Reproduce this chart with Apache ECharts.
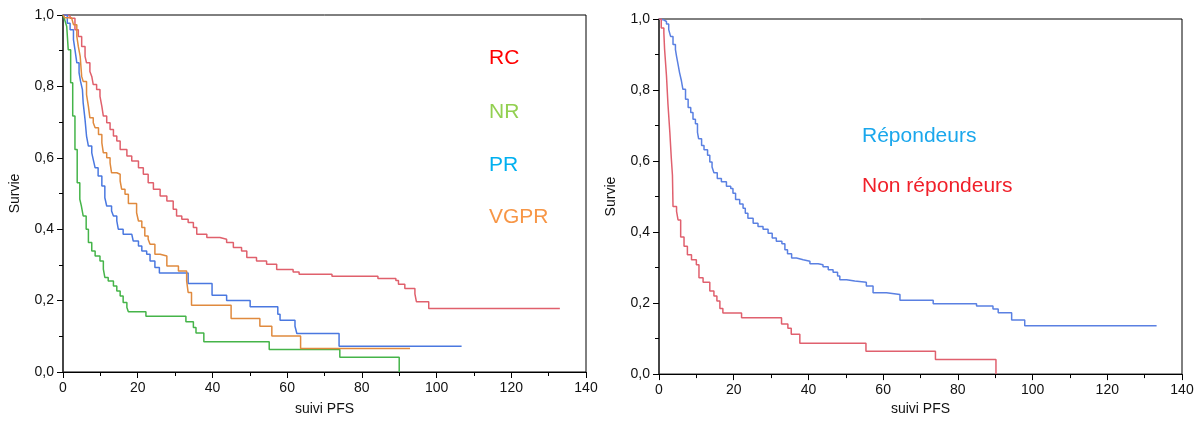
<!DOCTYPE html>
<html>
<head>
<meta charset="utf-8">
<script src="https://cdn.jsdelivr.net/npm/echarts@6/dist/echarts.min.js"></script>
<style>
html,body{margin:0;padding:0;background:#fff;}
#c{width:1201px;height:421px;}
</style>
</head>
<body>
<div id="c"></div>
<script>
// ---- Data (Kaplan-Meier step points: [time, survival after step]) ----
const xTicks = [0, 20, 40, 60, 80, 100, 120, 140];
const yTicks = [0, 0.2, 0.4, 0.6, 0.8, 1.0];

const rcData = [[0,1],[1.0,0.997],[1.9,0.991],[3.2,0.959],[4.1,0.940],[5.0,0.912],[5.9,0.884],[6.3,0.866],[7.2,0.842],[7.7,0.828],[8.1,0.805],[9.0,0.791],[9.9,0.772],[10.4,0.744],[10.8,0.717],[11.7,0.698],[12.6,0.679],[13.5,0.661],[14.4,0.647],[15.3,0.623],[17.1,0.605],[18.4,0.591],[20.2,0.572],[21.5,0.554],[22.8,0.530],[24.2,0.512],[26.0,0.493],[27.8,0.479],[29.5,0.456],[30.4,0.437],[31.8,0.428],[33.5,0.419],[34.9,0.405],[35.8,0.386],[38.5,0.377],[42.0,0.372],[43.8,0.363],[45.6,0.349],[47.8,0.339],[49.2,0.321],[51.8,0.311],[54.5,0.302],[57.2,0.287],[61.6,0.280],[63.2,0.274],[72.0,0.268],[84.3,0.262],[89.1,0.256],[89.8,0.246],[91.5,0.234],[94.2,0.219],[94.6,0.197],[97.9,0.178],[133.0,0.178]];

const nrData = [[0,1],[0.5,0.985],[1.0,0.968],[1.4,0.903],[2.05,0.810],[2.6,0.717],[3.2,0.623],[3.8,0.530],[4.5,0.484],[4.9,0.466],[5.4,0.437],[6.2,0.400],[6.8,0.363],[7.7,0.339],[8.6,0.325],[9.9,0.311],[10.8,0.288],[11.2,0.265],[12.1,0.255],[13.5,0.241],[14.4,0.227],[15.3,0.213],[16.1,0.195],[17.1,0.181],[17.5,0.169],[22.2,0.156],[32.9,0.141],[34.9,0.125],[35.6,0.109],[37.7,0.085],[55.2,0.063],[74.1,0.041],[90.0,0.0]];

const prData = [[0,1],[0.5,1.0],[1.15,0.977],[1.9,0.959],[2.8,0.931],[3.2,0.903],[3.7,0.866],[4.3,0.838],[4.7,0.814],[5.2,0.791],[5.4,0.754],[5.9,0.707],[6.3,0.661],[6.8,0.633],[7.7,0.614],[8.1,0.595],[8.6,0.572],[9.4,0.549],[10.4,0.521],[11.2,0.488],[11.7,0.465],[13.0,0.451],[13.5,0.437],[14.4,0.423],[14.8,0.400],[16.1,0.386],[18.4,0.381],[18.8,0.367],[20.2,0.353],[21.1,0.339],[22.4,0.330],[23.3,0.311],[24.6,0.293],[25.8,0.277],[33.5,0.248],[39.9,0.215],[43.8,0.200],[50.1,0.183],[57.5,0.162],[58.1,0.145],[62.1,0.128],[62.6,0.108],[73.9,0.072],[106.7,0.072]];

const vgprData = [[0,1],[0.5,0.992],[2.3,0.987],[2.8,0.973],[3.7,0.940],[4.1,0.912],[4.6,0.884],[5.0,0.828],[5.4,0.814],[6.3,0.777],[6.8,0.744],[7.2,0.712],[8.1,0.698],[8.6,0.684],[9.5,0.665],[10.4,0.642],[10.8,0.614],[11.7,0.600],[12.6,0.586],[13.0,0.558],[14.4,0.554],[15.3,0.535],[15.7,0.512],[16.6,0.498],[17.5,0.472],[19.7,0.446],[20.2,0.423],[21.1,0.405],[21.9,0.381],[22.8,0.372],[23.3,0.358],[24.6,0.330],[26.0,0.325],[27.8,0.297],[30.9,0.283],[33.1,0.255],[33.5,0.223],[34.4,0.187],[45.0,0.150],[52.7,0.128],[55.9,0.101],[63.6,0.066],[92.9,0.066]];

const repData = [[0,1],[0.2,0.998],[1.1,0.993],[2.0,0.986],[2.6,0.970],[3.1,0.951],[3.75,0.928],[4.4,0.914],[4.7,0.895],[5.1,0.872],[5.5,0.849],[6.0,0.826],[6.4,0.802],[7.1,0.774],[7.8,0.751],[8.5,0.737],[9.1,0.718],[9.75,0.705],[10.3,0.681],[10.6,0.663],[11.4,0.644],[12.05,0.632],[13.0,0.616],[13.6,0.597],[14.2,0.583],[14.7,0.567],[15.6,0.551],[16.7,0.542],[18.05,0.529],[19.2,0.523],[19.8,0.509],[20.5,0.492],[21.6,0.479],[22.5,0.467],[23.1,0.453],[23.8,0.439],[25.2,0.425],[26.5,0.416],[27.85,0.408],[29.2,0.397],[30.3,0.383],[31.4,0.374],[32.9,0.367],[33.7,0.350],[34.4,0.339],[35.5,0.327],[36.8,0.322],[38.6,0.318],[40.4,0.311],[42.6,0.308],[43.9,0.302],[45.3,0.294],[46.6,0.287],[47.8,0.276],[48.4,0.266],[50.2,0.262],[52.4,0.259],[55.5,0.248],[57.3,0.229],[60.9,0.224],[64.5,0.208],[73.4,0.198],[85.0,0.192],[89.4,0.183],[90.8,0.173],[94.4,0.152],[97.9,0.136],[133.2,0.136]];

const nonRepData = [[0,1],[0.6,0.975],[1.3,0.961],[1.5,0.914],[2.0,0.840],[2.4,0.760],[2.9,0.681],[3.3,0.607],[3.6,0.560],[3.75,0.472],[4.7,0.458],[5.1,0.434],[5.8,0.386],[6.7,0.360],[7.6,0.336],[8.7,0.322],[10.0,0.308],[10.7,0.271],[11.8,0.259],[13.6,0.234],[14.7,0.220],[15.5,0.206],[16.3,0.185],[17.1,0.172],[22.1,0.159],[32.8,0.141],[34.5,0.129],[35.4,0.112],[37.7,0.087],[55.4,0.064],[74.0,0.041],[90.2,0.0]];

const leftLabels = ['RC', 'NR', 'PR', 'VGPR'];
const rightLabels = ['Répondeurs', 'Non répondeurs'];

// ---- Chart ----
const FONT = '"Liberation Sans", Arial, sans-serif';
const chart = echarts.init(document.getElementById('c'), null, {renderer: 'canvas'});

function xAxisCfg(gridIndex, gap) {
  return {
    type: 'value', gridIndex, min: xTicks[0], max: xTicks[xTicks.length - 1], interval: 20,
    name: 'suivi PFS', nameLocation: 'middle', nameGap: gap,
    nameTextStyle: {fontFamily: FONT, fontSize: 14, color: '#111'},
    axisLine: {show: true, lineStyle: {color: '#000', width: 1}},
    axisTick: {show: true, length: 6, lineStyle: {color: '#000'}},
    minorTick: {show: true, splitNumber: 2, length: 4, lineStyle: {color: '#000'}},
    axisLabel: {fontFamily: FONT, fontSize: 14, color: '#111', margin: 9},
    splitLine: {show: false}, minorSplitLine: {show: false}
  };
}
function yAxisCfg(gridIndex) {
  return {
    type: 'value', gridIndex, min: 0, max: 1, interval: 0.2,
    name: 'Survie', nameLocation: 'middle', nameGap: 41, nameRotate: 90,
    nameTextStyle: {fontFamily: FONT, fontSize: 14, color: '#111'},
    axisLine: {show: true, lineStyle: {color: '#333', width: 1.5}},
    axisTick: {show: true, length: 6, lineStyle: {color: '#000'}},
    minorTick: {show: true, splitNumber: 2, length: 4, lineStyle: {color: '#000'}},
    axisLabel: {fontFamily: FONT, fontSize: 14, color: '#111', margin: 9,
      formatter: v => v.toFixed(1).replace('.', ',')},
    splitLine: {show: false}, minorSplitLine: {show: false}
  };
}
function km(name, data, color, xi) {
  return {
    name, type: 'line', step: 'end', data, xAxisIndex: xi, yAxisIndex: xi,
    showSymbol: false, symbol: 'none', silent: true, animation: false,
    lineStyle: {color, width: 1.5}
  };
}

const leftColors = ['#ff0000', '#92d050', '#00b0f0', '#f79646'];
const rightColors = ['#1aa7ec', '#f0202a'];
const leftTops = [48, 102, 155, 207];
const rightTops = [126, 176];

const graphics = [];
leftLabels.forEach((t, i) => graphics.push({
  type: 'text', left: 489, top: leftTops[i],
  style: {text: t, fill: leftColors[i], font: '21px ' + FONT}
}));
rightLabels.forEach((t, i) => graphics.push({
  type: 'text', left: 862, top: rightTops[i],
  style: {text: t, fill: rightColors[i], font: '21px ' + FONT}
}));

chart.setOption({
  animation: false,
  backgroundColor: '#fff',
  grid: [
    {left: 63, top: 15, width: 523, height: 358, show: true, borderColor: '#000', borderWidth: 1, backgroundColor: 'transparent'},
    {left: 659, top: 19, width: 523, height: 358, show: true, borderColor: '#000', borderWidth: 1, backgroundColor: 'transparent'}
  ],
  xAxis: [xAxisCfg(0, 30), xAxisCfg(1, 27)],
  yAxis: [yAxisCfg(0), yAxisCfg(1)],
  series: [
    km('RC', rcData, '#e0606c', 0),
    km('NR', nrData, '#45b449', 0),
    km('PR', prData, '#4a78e0', 0),
    km('VGPR', vgprData, '#e08a3e', 0),
    km('Répondeurs', repData, '#5a80e2', 1),
    km('Non répondeurs', nonRepData, '#e0606e', 1)
  ],
  graphic: graphics
});
</script>
</body>
</html>
